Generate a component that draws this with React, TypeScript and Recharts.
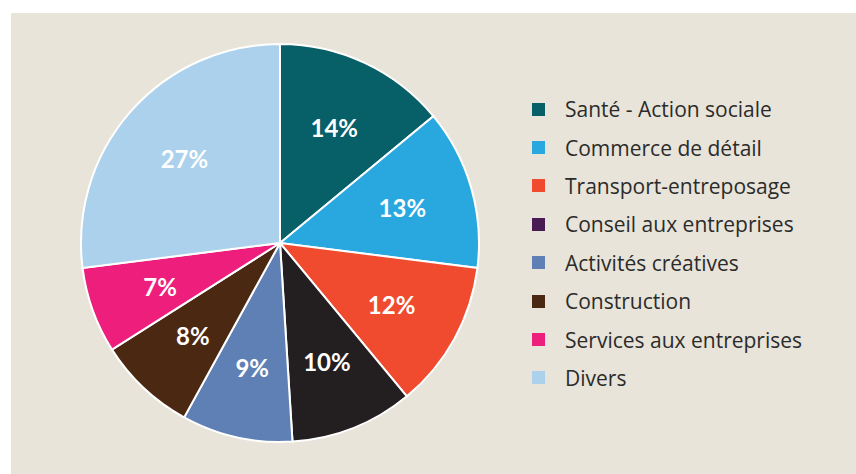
import { PieChart, Pie, Cell, Legend } from "recharts";

if (typeof document !== "undefined") document.body.style.margin = "0";

const categories = [
  "Santé - Action sociale",
  "Commerce de détail",
  "Transport-entreposage",
  "Conseil aux entreprises",
  "Activités créatives",
  "Construction",
  "Services aux entreprises",
  "Divers",
];
const shares = [14, 13, 12, 10, 9, 8, 7, 27];
const sliceColors = ["#075f67", "#29a8df", "#f04b2e", "#231f20", "#5f80b4", "#4b2812", "#ee1e7d", "#acd1ec"];
const legendColors = ["#075f67", "#29a8df", "#f04b2e", "#4a1a55", "#5f80b4", "#4b2812", "#ee1e7d", "#acd1ec"];

const data = categories.map((name, i) => ({ name, value: shares[i] }));

const RADIAN = Math.PI / 180;

function renderLabel(props: any) {
  const { cx, cy, midAngle, outerRadius, value } = props;
  const r = outerRadius * 0.64;
  const x = cx + r * Math.cos(-midAngle * RADIAN);
  const y = cy + r * Math.sin(-midAngle * RADIAN);
  return (
    <text x={x} y={y} fill="#fff" textAnchor="middle" dominantBaseline="central" fontSize={24} fontWeight={700} fontFamily="Lato">
      {value}%
    </text>
  );
}

function renderLegend() {
  return (
    <ul style={{ listStyle: "none", margin: 0, padding: 0, textAlign: "left" }}>
      {categories.map((c, i) => (
        <li key={c} style={{ display: "flex", alignItems: "center", height: 38.4 }}>
          <span style={{ width: 13, height: 13, background: legendColors[i], display: "inline-block", marginRight: 20, flex: "none" }} />
          <span style={{ fontFamily: "Open Sans", fontSize: 21, color: "#2b2b2b", whiteSpace: "nowrap" }}>{c}</span>
        </li>
      ))}
    </ul>
  );
}

export default function App() {
  return (
    <div style={{ width: 856, height: 474, background: "#fff", position: "relative" }}>
      <div style={{ position: "absolute", left: 11, top: 13, width: 845, height: 461, background: "#e8e4d9" }}>
        <PieChart width={845} height={461} margin={{ top: 0, right: 0, bottom: 0, left: 0 }}>
          <Pie
            data={data}
            dataKey="value"
            nameKey="name"
            cx={269}
            cy={230}
            outerRadius={199}
            startAngle={90}
            endAngle={-270}
            stroke="#fff"
            strokeWidth={2}
            label={renderLabel}
            labelLine={false}
            isAnimationActive={false}
          >
            {data.map((d, i) => (
              <Cell key={d.name} fill={sliceColors[i]} />
            ))}
          </Pie>
          <Legend
            layout="vertical"
            verticalAlign="top"
            align="right"
            width={310}
            wrapperStyle={{ left: 521, top: 77, right: "auto" }}
            content={renderLegend}
          />
        </PieChart>
      </div>
    </div>
  );
}
